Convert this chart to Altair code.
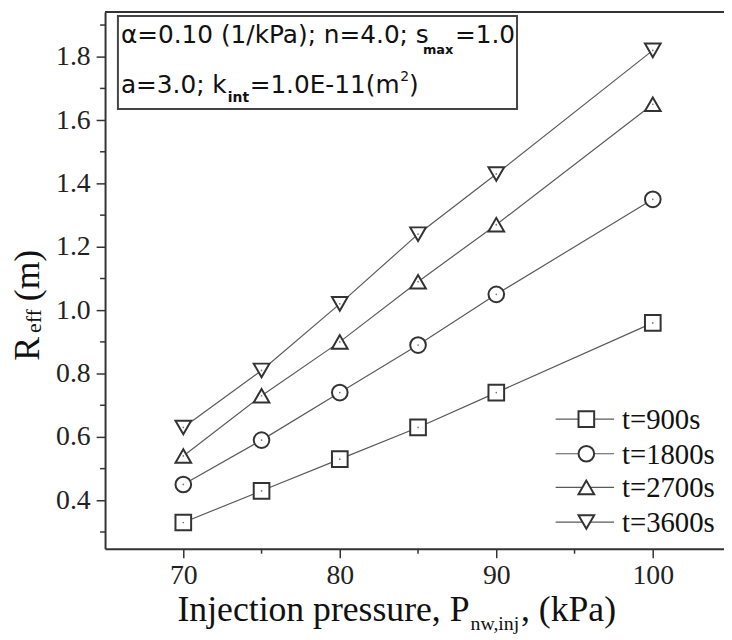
import altair as alt
import pandas as pd

# ---- data ----
pressure = [70, 75, 80, 85, 90, 100]
series_names = ["t=900s", "t=1800s", "t=2700s", "t=3600s"]
r_900 = [0.33, 0.43, 0.53, 0.63, 0.74, 0.96]
r_1800 = [0.45, 0.59, 0.74, 0.89, 1.05, 1.35]
r_2700 = [0.54, 0.73, 0.90, 1.09, 1.27, 1.65]
r_3600 = [0.63, 0.81, 1.02, 1.24, 1.43, 1.82]
shapes = ["square", "circle", "triangle-up", "triangle-down"]
x_major = [70, 80, 90, 100]
x_minor = [75, 85, 95]
y_major = [0.4, 0.6, 0.8, 1.0, 1.2, 1.4, 1.6, 1.8]
y_minor = [0.3, 0.5, 0.7, 0.9, 1.1, 1.3, 1.5, 1.7, 1.9]

rows = []
for name, vals in zip(series_names, [r_900, r_1800, r_2700, r_3600]):
    for p, v in zip(pressure, vals):
        rows.append({"series": name, "p": p, "r": v})
df = pd.DataFrame(rows)

W, H = 625, 542
SERIF = "Liberation Serif"
SANS = "DejaVu Sans"
INK = "#333333"
SYM = 250

xscale = alt.Scale(domain=[65, 104.55], nice=False, zero=False)
yscale = alt.Scale(domain=[0.247, 1.941], nice=False, zero=False)

xaxis = alt.Axis(
    values=x_major, title="", format="d", tickSize=9,
    labelFont=SERIF, labelFontSize=28, labelColor="#222222", labelPadding=4,
    labelOverlap=False, labelFlush=False,
    domainColor=INK, domainWidth=2, tickColor=INK, tickWidth=1.5, grid=False,
)
yaxis = alt.Axis(
    values=y_major, title="", format=".1f", tickSize=9,
    labelFont=SERIF, labelFontSize=28, labelColor="#222222", labelPadding=6,
    labelOverlap=False, labelFlush=False,
    domainColor=INK, domainWidth=2, tickColor=INK, tickWidth=1.5, grid=False,
)

base = alt.Chart(df)
lines = base.mark_line(color="#5a5a5a", strokeWidth=1.2).encode(
    x=alt.X("p:Q", scale=xscale, axis=xaxis),
    y=alt.Y("r:Q", scale=yscale, axis=yaxis),
    detail="series:N",
)
points = base.mark_point(fill="white", stroke=INK, strokeWidth=2, opacity=1,
                         fillOpacity=1, size=SYM).encode(
    x=alt.X("p:Q", scale=xscale, title=""),
    y=alt.Y("r:Q", scale=yscale, title=""),
    shape=alt.Shape("series:N", scale=alt.Scale(domain=series_names, range=shapes), legend=None),
)
dots = base.mark_circle(color="#777777", size=3, opacity=1).encode(
    x=alt.X("p:Q", scale=xscale, title=""),
    y=alt.Y("r:Q", scale=yscale, title=""),
)

# minor ticks, placed through the same scales
minor_y = alt.Chart(pd.DataFrame({"v": y_minor})).mark_rule(color=INK, strokeWidth=1.5).encode(
    y=alt.Y("v:Q", scale=yscale, title=""), x=alt.value(-5), x2=alt.value(0))
minor_x = alt.Chart(pd.DataFrame({"u": x_minor})).mark_rule(color=INK, strokeWidth=1.5).encode(
    x=alt.X("u:Q", scale=xscale, title=""), y=alt.value(H), y2=alt.value(H + 5))

one = alt.Chart(pd.DataFrame({"a": [0]}))

# top frame line
top_line = one.mark_rule(color=INK, strokeWidth=2).encode(
    x=alt.value(0), x2=alt.value(W), y=alt.value(0))

# annotation box
box = one.mark_rect(fill="white", stroke="#444444", strokeWidth=2).encode(
    x=alt.value(13), x2=alt.value(416), y=alt.value(4), y2=alt.value(98))


def txt(s, x, y, size, font=SANS, align="left", weight="normal", angle=0, baseline="alphabetic"):
    kw = dict(text=s, align=align, baseline=baseline, font=font, fontSize=size,
              fontWeight=weight, color="#111111")
    if angle:
        kw["angle"] = angle
    return one.mark_text(**kw).encode(x=alt.value(x), y=alt.value(y))


annot = [
    txt("α=0.10 (1/kPa); n=4.0; s", 16, 31, 25),
    txt("max", 321, 42, 13, weight="bold"),
    txt("=1.0", 414, 31, 25, align="right"),
    txt("a=3.0; k", 16, 82, 25),
    txt("int", 124, 91, 14, weight="bold"),
    txt("=1.0E-11(m", 146, 82, 25),
    txt("2", 298, 70, 14),
    txt(")", 307, 82, 25),
]

titles = [
    txt("Injection pressure, P", 368, 615, 36, font=SERIF, align="right"),
    txt("nw,inj", 369, 624, 20, font=SERIF),
    txt(", (kPa)", 420, 615, 36, font=SERIF),
    txt("R", -67, 352, 36, font=SERIF, angle=270),
    txt("eff", -65, 324, 22, font=SERIF, angle=270),
    txt("(m)", -67, 292, 36, font=SERIF, angle=270),
]

legend_layers = []
leg_y = [411, 446, 480, 515]
for name, shp, ly in zip(series_names, shapes, leg_y):
    legend_layers.append(one.mark_rule(color="#5a5a5a", strokeWidth=1.2).encode(
        x=alt.value(455), x2=alt.value(514), y=alt.value(ly)))
    legend_layers.append(one.mark_point(shape=shp, fill="white", stroke=INK, strokeWidth=2,
                                        opacity=1, fillOpacity=1, size=SYM).encode(
        x=alt.value(486), y=alt.value(ly)))
    legend_layers.append(txt(name, 522, ly + 1, 29, font=SERIF, baseline="middle"))

chart = alt.layer(
    lines, minor_y, minor_x, points, dots, top_line, box, *annot, *titles, *legend_layers
).properties(
    width=W, height=H,
    autosize=alt.AutoSizeParams(type="none"),
    padding={"left": 98, "top": 1, "right": 0, "bottom": 88},
    background="white",
).configure_view(strokeWidth=0)

chart.save("out.html", embed_options={"renderer": "svg", "actions": False})
